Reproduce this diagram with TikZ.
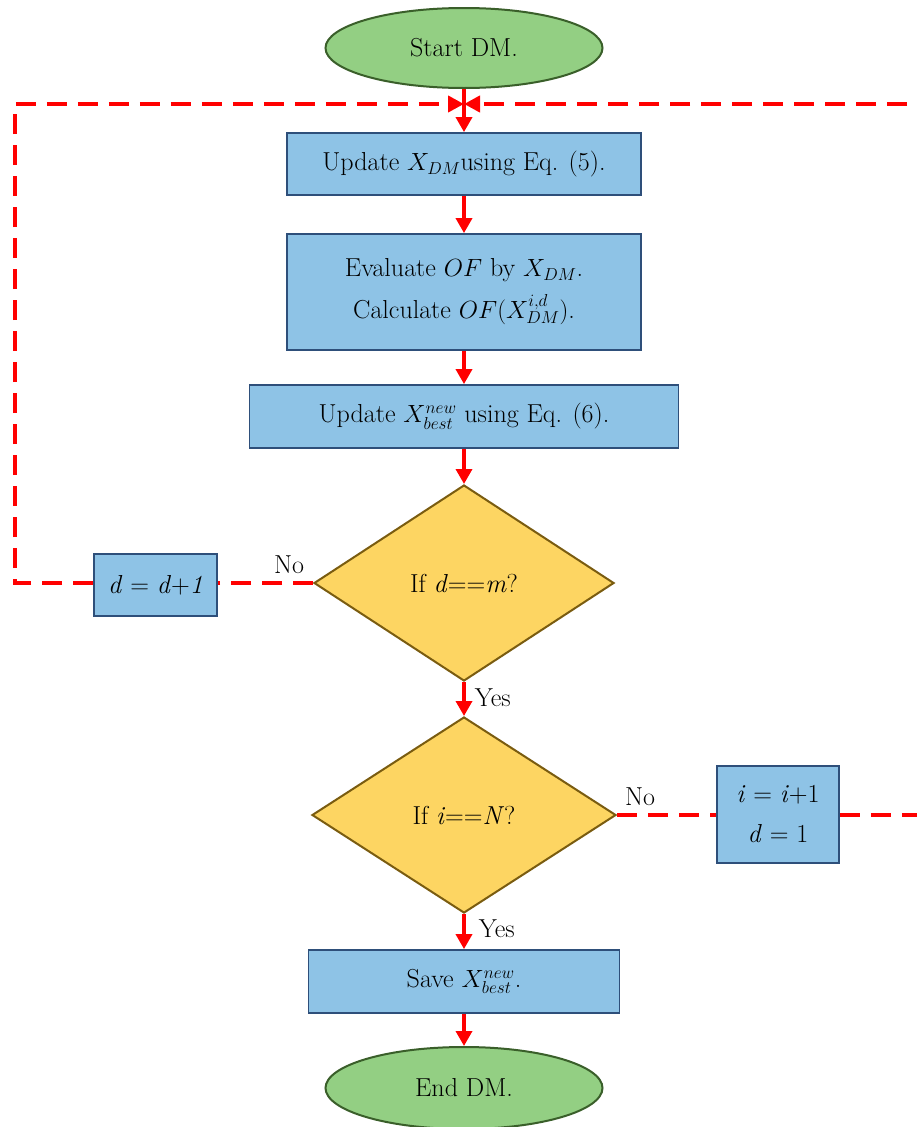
\documentclass[tikz,border=0pt]{standalone}
\usepackage{fontspec}
\usetikzlibrary{shapes.geometric,arrows.meta}
\definecolor{boxfill}{HTML}{8EC3E6}
\definecolor{boxdraw}{HTML}{2E4F7A}
\definecolor{diafill}{HTML}{FDD562}
\definecolor{diadraw}{HTML}{7A5C10}
\definecolor{ellfill}{HTML}{93CF83}
\definecolor{elldraw}{HTML}{3A5F2A}
\definecolor{arrred}{HTML}{FF0000}
\begin{document}
\begin{tikzpicture}[x=1pt,y=-1pt,
  font=\fontsize{26}{32}\selectfont,
  procbox/.style={rectangle, draw=boxdraw, fill=boxfill, line width=1.8pt, inner sep=0pt, align=center},
  decbox/.style={diamond, draw=diadraw, fill=diafill, line width=2pt, inner sep=0pt, align=center},
  termbox/.style={ellipse, draw=elldraw, fill=ellfill, line width=2pt, inner sep=0pt},
  flow/.style={draw=arrred, line width=3.5pt, -{Triangle[width=16pt,length=15pt]}},
  loopline/.style={draw=arrred, line width=4pt, dash pattern=on 20pt off 11pt},
  looparrow/.style={loopline, -{Triangle[width=16pt,length=16pt]}},
  lbl/.style={inner sep=0pt, anchor=west}
]
\useasboundingbox[fill=white] (0,0) rectangle (917,1127);

\node[termbox, minimum width=277pt, minimum height=80pt] (start) at (464,48) {Start DM.};
\node[procbox, minimum width=354pt, minimum height=62pt] (b1) at (464,164) {Update $X_{DM}$using Eq. (5).};
\node[procbox, minimum width=354pt, minimum height=116pt] (b2) at (464,292) {Evaluate $OF$ by $X_{DM}$.\\[10pt] Calculate $OF(X_{DM}^{i,d})$.};
\node[procbox, minimum width=429pt, minimum height=63pt] (b3) at (464,416.5) {Update $X_{best}^{new}$ using Eq. (6).};
\node[decbox, minimum width=300pt, minimum height=196pt] (d1) at (464,583) {If \textit{d}==\textit{m}?};
\node[decbox, minimum width=304pt, minimum height=196pt] (d2) at (464,815) {If \textit{i}==\textit{N}?};
\node[procbox, minimum width=123pt, minimum height=62pt] (dbox) at (155.5,585) {\textit{d} = \textit{d}+\textit{1}};
\node[procbox, minimum width=122pt, minimum height=97pt] (ibox) at (778,814.5) {\textit{i} = \textit{i}+1\\[8pt]\textit{d} = 1};
\node[procbox, minimum width=311pt, minimum height=63pt] (save) at (464,981.5) {Save $X_{best}^{new}$.};
\node[termbox, minimum width=277pt, minimum height=82pt] (end) at (464,1088) {End DM.};

\coordinate (jn) at (464,104);
\coordinate (lb) at (15,583);
\coordinate (rb) at (921,815);

% main flow
\draw[flow] (start.south) -- (b1.north);
\draw[flow] (b1.south) -- (b2.north);
\draw[flow] (b2.south) -- (b3.north);
\draw[flow] (b3.south) -- (d1.north);
\draw[flow] (d1.south) -- node[lbl, xshift=9pt, yshift=1pt] (yes1) {Yes} (d2.north);
\draw[flow] (d2.south) -- node[lbl, xshift=13pt, yshift=3pt] (yes2) {Yes} (save.north);
\draw[flow] (save.south) -- (end.north);

% loops
\draw[loopline] (d1.west) -- node[pos=0, anchor=south east, inner sep=0pt, xshift=-7pt, yshift=7pt] (no1) {No} (dbox.east |- d1.west);
\draw[looparrow] (dbox.west |- lb) -- (lb) |- (jn);
\draw[loopline] (d2.east) -- node[pos=0, anchor=south west, inner sep=0pt, xshift=6pt, yshift=7pt] (no2) {No} (ibox.west |- d2.east);
\draw[looparrow] (ibox.east |- rb) -- (rb) |- (jn);
\end{tikzpicture}
\end{document}
